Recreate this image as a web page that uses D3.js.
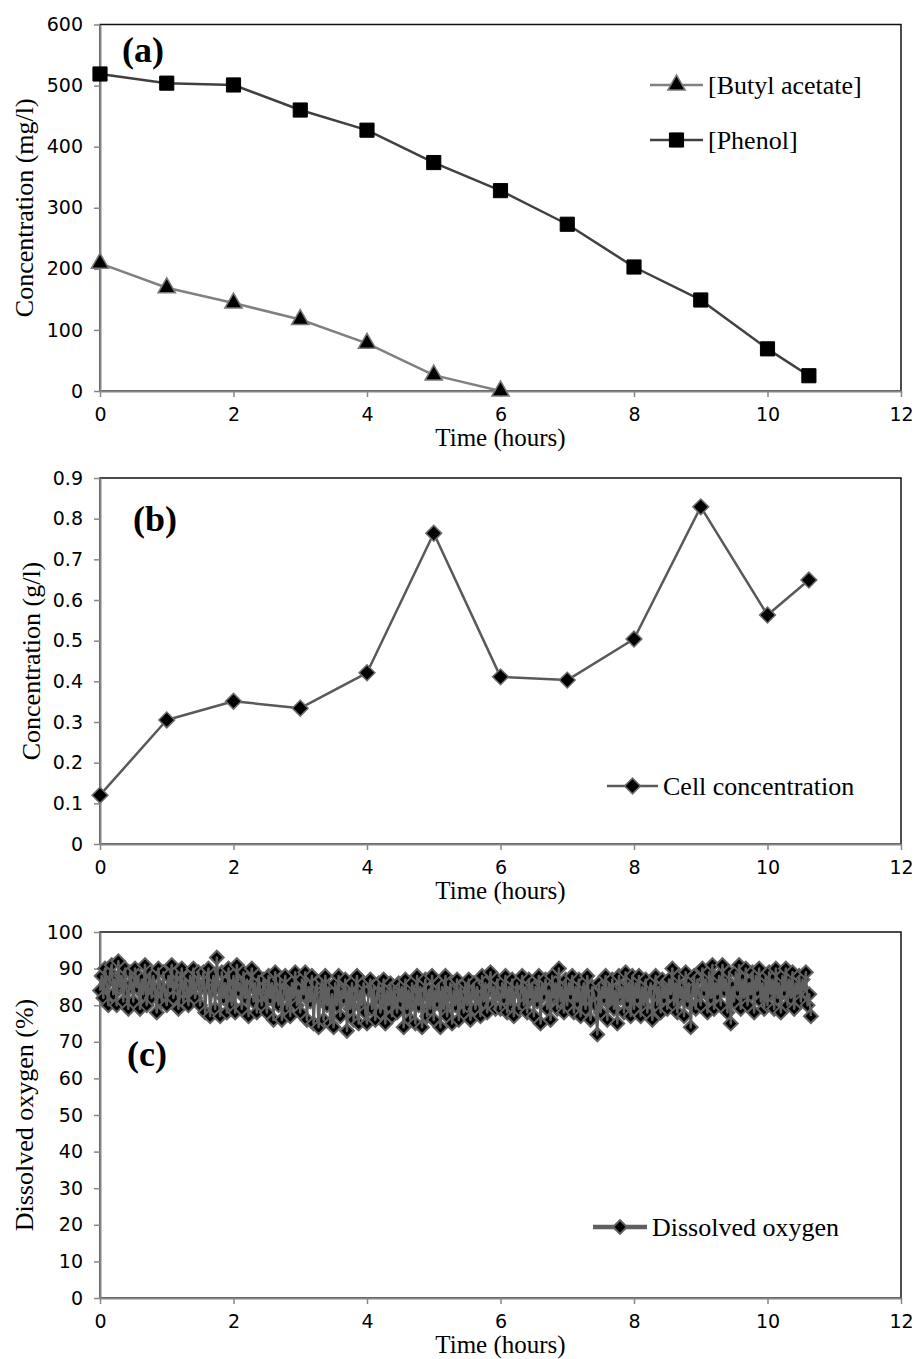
<!DOCTYPE html>
<html>
<head>
<meta charset="utf-8">
<script src="https://cdn.jsdelivr.net/npm/d3@7"></script>
<style>
body { margin: 0; background: #fff; }
</style>
</head>
<body>
<div id="svgWrapper"></div>
<script>
"use strict"
// data
var xTicks = [0, 2, 4, 6, 8, 10, 12];

// (a) substrate concentrations, mg/l
var timeButyl = [0, 1, 2, 3, 4, 5, 6];
var butylAcetate = [209, 169, 144, 117, 78, 26, 0];
var timePhenol = [0, 1, 2, 3, 4, 5, 6, 7, 8, 9, 10, 10.62];
var phenol = [519, 504, 501, 460, 427, 374, 328, 273, 203, 149, 69, 25];
var yTicksA = [0, 100, 200, 300, 400, 500, 600];

// (b) cell concentration, g/l
var timeCell = [0, 1, 2, 3, 4, 5, 6, 7, 8, 9, 10, 10.62];
var cellConc = [0.12, 0.305, 0.351, 0.334, 0.421, 0.764, 0.411, 0.403, 0.504, 0.829, 0.563, 0.649];
var yTicksB = [0, 0.1, 0.2, 0.3, 0.4, 0.5, 0.6, 0.7, 0.8, 0.9];

// (c) dissolved oxygen, %  (one reading every 1.5 min, one row per half hour)
var timeDO = [
    0, 0.025, 0.05, 0.075, 0.1, 0.125, 0.15, 0.175, 0.2, 0.225, 0.25, 0.275, 0.3, 0.325, 0.35, 0.375, 0.4, 0.425, 0.45, 0.475,
    0.5, 0.525, 0.55, 0.575, 0.6, 0.625, 0.65, 0.675, 0.7, 0.725, 0.75, 0.775, 0.8, 0.825, 0.85, 0.875, 0.9, 0.925, 0.95, 0.975,
    1, 1.025, 1.05, 1.075, 1.1, 1.125, 1.15, 1.175, 1.2, 1.225, 1.25, 1.275, 1.3, 1.325, 1.35, 1.375, 1.4, 1.425, 1.45, 1.475,
    1.5, 1.525, 1.55, 1.575, 1.6, 1.625, 1.65, 1.675, 1.7, 1.725, 1.75, 1.775, 1.8, 1.825, 1.85, 1.875, 1.9, 1.925, 1.95, 1.975,
    2, 2.025, 2.05, 2.075, 2.1, 2.125, 2.15, 2.175, 2.2, 2.225, 2.25, 2.275, 2.3, 2.325, 2.35, 2.375, 2.4, 2.425, 2.45, 2.475,
    2.5, 2.525, 2.55, 2.575, 2.6, 2.625, 2.65, 2.675, 2.7, 2.725, 2.75, 2.775, 2.8, 2.825, 2.85, 2.875, 2.9, 2.925, 2.95, 2.975,
    3, 3.025, 3.05, 3.075, 3.1, 3.125, 3.15, 3.175, 3.2, 3.225, 3.25, 3.275, 3.3, 3.325, 3.35, 3.375, 3.4, 3.425, 3.45, 3.475,
    3.5, 3.525, 3.55, 3.575, 3.6, 3.625, 3.65, 3.675, 3.7, 3.725, 3.75, 3.775, 3.8, 3.825, 3.85, 3.875, 3.9, 3.925, 3.95, 3.975,
    4, 4.025, 4.05, 4.075, 4.1, 4.125, 4.15, 4.175, 4.2, 4.225, 4.25, 4.275, 4.3, 4.325, 4.35, 4.375, 4.4, 4.425, 4.45, 4.475,
    4.5, 4.525, 4.55, 4.575, 4.6, 4.625, 4.65, 4.675, 4.7, 4.725, 4.75, 4.775, 4.8, 4.825, 4.85, 4.875, 4.9, 4.925, 4.95, 4.975,
    5, 5.025, 5.05, 5.075, 5.1, 5.125, 5.15, 5.175, 5.2, 5.225, 5.25, 5.275, 5.3, 5.325, 5.35, 5.375, 5.4, 5.425, 5.45, 5.475,
    5.5, 5.525, 5.55, 5.575, 5.6, 5.625, 5.65, 5.675, 5.7, 5.725, 5.75, 5.775, 5.8, 5.825, 5.85, 5.875, 5.9, 5.925, 5.95, 5.975,
    6, 6.025, 6.05, 6.075, 6.1, 6.125, 6.15, 6.175, 6.2, 6.225, 6.25, 6.275, 6.3, 6.325, 6.35, 6.375, 6.4, 6.425, 6.45, 6.475,
    6.5, 6.525, 6.55, 6.575, 6.6, 6.625, 6.65, 6.675, 6.7, 6.725, 6.75, 6.775, 6.8, 6.825, 6.85, 6.875, 6.9, 6.925, 6.95, 6.975,
    7, 7.025, 7.05, 7.075, 7.1, 7.125, 7.15, 7.175, 7.2, 7.225, 7.25, 7.275, 7.3, 7.325, 7.35, 7.375, 7.4, 7.425, 7.45, 7.475,
    7.5, 7.525, 7.55, 7.575, 7.6, 7.625, 7.65, 7.675, 7.7, 7.725, 7.75, 7.775, 7.8, 7.825, 7.85, 7.875, 7.9, 7.925, 7.95, 7.975,
    8, 8.025, 8.05, 8.075, 8.1, 8.125, 8.15, 8.175, 8.2, 8.225, 8.25, 8.275, 8.3, 8.325, 8.35, 8.375, 8.4, 8.425, 8.45, 8.475,
    8.5, 8.525, 8.55, 8.575, 8.6, 8.625, 8.65, 8.675, 8.7, 8.725, 8.75, 8.775, 8.8, 8.825, 8.85, 8.875, 8.9, 8.925, 8.95, 8.975,
    9, 9.025, 9.05, 9.075, 9.1, 9.125, 9.15, 9.175, 9.2, 9.225, 9.25, 9.275, 9.3, 9.325, 9.35, 9.375, 9.4, 9.425, 9.45, 9.475,
    9.5, 9.525, 9.55, 9.575, 9.6, 9.625, 9.65, 9.675, 9.7, 9.725, 9.75, 9.775, 9.8, 9.825, 9.85, 9.875, 9.9, 9.925, 9.95, 9.975,
    10, 10.025, 10.05, 10.075, 10.1, 10.125, 10.15, 10.175, 10.2, 10.225, 10.25, 10.275, 10.3, 10.325, 10.35, 10.375, 10.4, 10.425, 10.45, 10.475,
    10.5, 10.525, 10.55, 10.575, 10.6, 10.625, 10.65
];
var dissolvedO2 = [
    84, 88, 82, 90, 86, 80, 89, 91, 83, 87, 80, 92, 85, 88, 81, 90, 84, 79, 89, 86,
    81, 90, 85, 88, 79, 87, 83, 91, 80, 86, 89, 82, 88, 84, 78, 90, 85, 81, 89, 83,
    80, 88, 85, 91, 82, 86, 89, 79, 84, 90, 81, 87, 85, 80, 88, 83, 90, 82, 86, 89,
    80, 85, 89, 78, 86, 90, 77, 84, 88, 79, 93, 85, 77, 89, 82, 86, 78, 90, 84, 80,
    88, 78, 91, 84, 86, 79, 89, 82, 87, 77, 85, 90, 81, 86, 78, 88, 83, 80, 87, 85,
    78, 88, 82, 86, 76, 89, 84, 80, 87, 76, 83, 88, 79, 85, 77, 86, 82, 89, 80, 84,
    78, 87, 83, 89, 76, 85, 81, 88, 75, 84, 86, 74, 82, 87, 76, 88, 80, 85, 75, 83,
    74, 86, 80, 88, 77, 84, 82, 87, 73, 85, 79, 86, 76, 83, 88, 75, 84, 80, 86, 78,
    75, 84, 87, 79, 85, 76, 83, 86, 78, 81, 87, 75, 84, 80, 86, 77, 85, 82, 78, 86,
    81, 85, 74, 87, 79, 84, 76, 86, 82, 75, 88, 80, 85, 74, 83, 87, 77, 84, 79, 88,
    76, 84, 81, 86, 74, 85, 79, 88, 77, 83, 86, 75, 84, 80, 87, 76, 85, 82, 78, 86,
    80, 87, 76, 84, 86, 79, 85, 82, 77, 88, 81, 86, 78, 84, 89, 80, 85, 79, 87, 83,
    79, 86, 82, 88, 78, 85, 80, 87, 77, 84, 86, 79, 83, 88, 80, 85, 78, 87, 82, 86,
    77, 85, 81, 88, 75, 86, 83, 87, 79, 84, 76, 88, 82, 86, 79, 90, 81, 85, 78, 87,
    80, 86, 83, 88, 78, 85, 81, 87, 77, 84, 86, 79, 88, 82, 76, 85, 83, 80, 72, 86,
    78, 85, 82, 88, 76, 86, 80, 87, 79, 84, 75, 88, 82, 85, 78, 89, 81, 86, 77, 88,
    79, 86, 82, 88, 77, 85, 80, 87, 78, 84, 86, 76, 83, 88, 80, 85, 78, 87, 82, 86,
    79, 87, 83, 90, 80, 86, 78, 88, 82, 85, 77, 89, 81, 86, 74, 84, 88, 79, 87, 83,
    80, 90, 84, 87, 78, 89, 82, 91, 79, 86, 83, 88, 80, 91, 84, 87, 78, 89, 75, 85,
    81, 89, 84, 91, 79, 87, 82, 90, 80, 86, 83, 89, 78, 88, 84, 90, 81, 86, 79, 88,
    80, 89, 83, 87, 79, 90, 82, 86, 78, 88, 84, 90, 80, 87, 82, 89, 79, 86, 83, 88,
    81, 87, 84, 89, 80, 83, 77
];
var yTicksC = [0, 10, 20, 30, 40, 50, 60, 70, 80, 90, 100];

var serif = "'Liberation Serif', 'Times New Roman', serif";
var sans = "'DejaVu Sans', Arial, sans-serif";

var fullWidth = 917;
var fullHeight = 1359;
var plotLeft = 100;
var plotRight = 901;

var svg = d3.select("#svgWrapper").append("svg")
    .attr("width", fullWidth).attr("height", fullHeight);
svg.append("rect").attr("width", fullWidth).attr("height", fullHeight).attr("fill", "#fff");

var xScale = d3.scaleLinear().domain([0, 12]).range([plotLeft, plotRight]);

function zip(xs, ys) {
    let out = [];
    for (let i = 0; i < xs.length; i++) {
        out.push([xs[i], ys[i]]);
    }
    return out;
}

function drawPanel(cfg) {
    var g = svg.append("g");
    var yScale = d3.scaleLinear().domain(cfg.domain).range([cfg.bottom, cfg.top]);

    // plot area frame (top / right stay dark)
    g.append("rect")
        .attr("x", plotLeft).attr("y", cfg.top)
        .attr("width", plotRight - plotLeft).attr("height", cfg.bottom - cfg.top)
        .attr("fill", "none").attr("stroke", "#111").attr("stroke-width", 1.5);

    var xAxis = d3.axisBottom(xScale).tickValues(xTicks).tickSize(6).tickSizeOuter(0)
        .tickPadding(11).tickFormat(d3.format("d"));
    var yAxis = d3.axisLeft(yScale).tickValues(cfg.ticks).tickSize(6).tickSizeOuter(0)
        .tickPadding(11).tickFormat(cfg.format);

    var gx = g.append("g").attr("transform", "translate(0," + cfg.bottom + ")").call(xAxis);
    var gy = g.append("g").attr("transform", "translate(" + plotLeft + ",0)").call(yAxis);
    [gx, gy].forEach(function(ax) {
        ax.select(".domain").attr("stroke", "#878787").attr("stroke-width", 2);
        ax.selectAll(".tick line").attr("stroke", "#878787").attr("stroke-width", 1.5);
        ax.selectAll(".tick text").attr("fill", "#000")
            .style("font-family", sans).style("font-size", "19px");
    });

    g.append("text")
        .attr("x", (plotLeft + plotRight) / 2).attr("y", cfg.bottom + 55)
        .attr("text-anchor", "middle")
        .style("font-family", serif).style("font-size", "25px")
        .text("Time (hours)");

    g.append("text")
        .attr("transform", "translate(" + cfg.yTitleX + "," + ((cfg.top + cfg.bottom) / 2) + ") rotate(-90)")
        .attr("text-anchor", "middle")
        .style("font-family", serif).style("font-size", "26px")
        .text(cfg.yTitle);

    g.append("text")
        .attr("x", cfg.labelX).attr("y", cfg.labelY)
        .style("font-family", serif).style("font-size", "36px").style("font-weight", "bold")
        .text(cfg.label);

    return { g: g, y: yScale };
}

function drawSeries(panel, pts, style) {
    var line = d3.line()
        .x(function(d) { return xScale(d[0]); })
        .y(function(d) { return panel.y(d[1]); });
    var lineLayer = panel.g.append("g");
    var markLayer = panel.g.append("g");
    // for the dense oxygen trace the grey line ends up over the markers
    if (style.lineOnTop) {
        lineLayer.raise();
    }
    lineLayer.append("path")
        .datum(pts)
        .attr("fill", "none")
        .attr("stroke", style.lineColor)
        .attr("stroke-width", style.lineWidth)
        .attr("stroke-linejoin", "round")
        .attr("d", line);
    markLayer.selectAll("path")
        .data(pts)
        .enter()
        .append("path")
        .attr("d", d3.symbol().type(style.symbol).size(style.size))
        .attr("transform", function(d) {
            return "translate(" + xScale(d[0]) + "," + panel.y(d[1]) + ")" + (style.rotate ? " rotate(45)" : "");
        })
        .attr("fill", "#000")
        .attr("stroke", style.markerStroke)
        .attr("stroke-width", style.markerStrokeWidth);
}

function drawLegendItem(panel, x0, x1, y, text, style) {
    panel.g.append("line")
        .attr("x1", x0).attr("x2", x1).attr("y1", y).attr("y2", y)
        .attr("stroke", style.lineColor).attr("stroke-width", style.legendWidth || style.lineWidth);
    panel.g.append("path")
        .attr("d", d3.symbol().type(style.symbol).size(style.size))
        .attr("transform", "translate(" + ((x0 + x1) / 2) + "," + y + ")" + (style.rotate ? " rotate(45)" : ""))
        .attr("fill", "#000")
        .attr("stroke", style.markerStroke)
        .attr("stroke-width", style.markerStrokeWidth);
    panel.g.append("text")
        .attr("x", x1 + 5).attr("y", y + 9)
        .style("font-family", serif).style("font-size", "26px")
        .text(text);
}

var butylStyle = { lineColor: "#808080", lineWidth: 2.5, symbol: d3.symbolTriangle, size: 130, markerStroke: "#7a7a7a", markerStrokeWidth: 1.5 };
var phenolStyle = { lineColor: "#404040", lineWidth: 2.5, symbol: d3.symbolSquare, size: 200, markerStroke: "#000", markerStrokeWidth: 1 };
var cellStyle = { lineColor: "#595959", lineWidth: 2.5, symbol: d3.symbolSquare, size: 125, rotate: true, markerStroke: "#6e6e6e", markerStrokeWidth: 1.5 };
var doStyle = { lineColor: "#5f5f5f", lineWidth: 2.5, legendWidth: 4.5, lineOnTop: true, symbol: d3.symbolSquare, size: 95, rotate: true, markerStroke: "#626262", markerStrokeWidth: 2 };

// (a)
var panelA = drawPanel({ top: 24.5, bottom: 391, domain: [0, 600], ticks: yTicksA, format: d3.format("d"),
    yTitle: "Concentration (mg/l)", yTitleX: 33, label: "(a)", labelX: 122, labelY: 62 });
drawSeries(panelA, zip(timeButyl, butylAcetate), butylStyle);
drawSeries(panelA, zip(timePhenol, phenol), phenolStyle);
drawLegendItem(panelA, 650, 703, 85, "[Butyl acetate]", butylStyle);
drawLegendItem(panelA, 650, 703, 140, "[Phenol]", phenolStyle);

// (b)
var panelB = drawPanel({ top: 478, bottom: 844, domain: [0, 0.9], ticks: yTicksB,
    format: function(d) { return d === 0 ? "0" : d3.format(".1f")(d); },
    yTitle: "Concentration (g/l)", yTitleX: 40, label: "(b)", labelX: 133, labelY: 531 });
drawSeries(panelB, zip(timeCell, cellConc), cellStyle);
drawLegendItem(panelB, 607, 658, 786, "Cell concentration", cellStyle);

// (c)
var panelC = drawPanel({ top: 932, bottom: 1298, domain: [0, 100], ticks: yTicksC, format: d3.format("d"),
    yTitle: "Dissolved oxygen (%)", yTitleX: 33, label: "(c)", labelX: 127, labelY: 1066 });
drawSeries(panelC, zip(timeDO, dissolvedO2), doStyle);
drawLegendItem(panelC, 593, 647, 1227, "Dissolved oxygen", doStyle);
</script>
</body>
</html>
